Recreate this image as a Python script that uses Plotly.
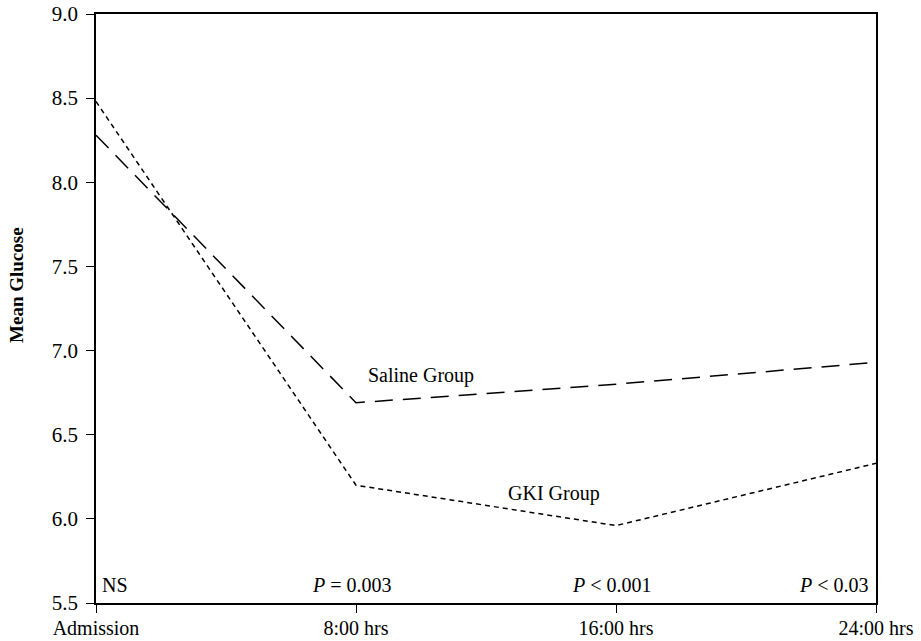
import plotly.graph_objects as go

categories = ["Admission", "8:00 hrs", "16:00 hrs", "24:00 hrs"]
saline = [8.28, 6.69, 6.80, 6.93]
gki = [8.48, 6.20, 5.96, 6.33]
p_labels = ["NS", "<i>P</i> = 0.003", "<i>P</i> &lt; 0.001", "<i>P</i> &lt; 0.03"]
y_ticks = [5.5, 6.0, 6.5, 7.0, 7.5, 8.0, 8.5, 9.0]

FONT = "Liberation Serif, Times New Roman, serif"
xs = list(range(len(categories)))

fig = go.Figure()
fig.add_trace(go.Scatter(x=xs, y=saline, mode="lines", name="Saline Group",
                         line=dict(color="black", width=1.5, dash="18px,10px")))
fig.add_trace(go.Scatter(x=xs, y=gki, mode="lines", name="GKI Group",
                         line=dict(color="black", width=1.5, dash="5px,4px")))

fig.add_annotation(x=1.25, y=6.85, text="Saline Group", showarrow=False,
                   font=dict(family=FONT, size=20, color="black"))
fig.add_annotation(x=1.76, y=6.15, text="GKI Group", showarrow=False,
                   font=dict(family=FONT, size=20, color="black"))

anchors = ["left", "center", "center", "right"]
offs = [0.015, -0.015, -0.015, -0.02]
for i, (lab, anc) in enumerate(zip(p_labels, anchors)):
    fig.add_annotation(x=xs[i] + offs[i], y=5.605, text=lab, showarrow=False,
                       xanchor=anc, font=dict(family=FONT, size=20, color="black"))

# y-axis title placed as an annotation
fig.add_annotation(x=0, xref="paper", xanchor="center", xshift=-79,
                   y=0.54, yref="paper", yanchor="middle",
                   text="<b>Mean Glucose</b>", textangle=-90, showarrow=False,
                   font=dict(family=FONT, size=19, color="black"))

fig.update_layout(
    width=921, height=641,
    margin=dict(l=96, r=45, t=14, b=38),
    plot_bgcolor="white", paper_bgcolor="white",
    showlegend=False,
    font=dict(family=FONT, size=21, color="black"),
    xaxis=dict(range=[0, 3], tickvals=xs, ticktext=categories, automargin=False,
               showline=True, linecolor="black", linewidth=1.5, mirror=True,
               ticks="outside", ticklen=8, tickcolor="black", showgrid=False,
               zeroline=False, tickfont=dict(family=FONT, size=20),
               ticklabelstandoff=-2, ticklabeloverflow="allow"),
    yaxis=dict(range=[5.5, 9.0], tickvals=y_ticks, tickformat=".1f", automargin=False,
               showline=True, linecolor="black", linewidth=1.5, mirror=True,
               ticks="outside", ticklen=8, tickcolor="black", showgrid=False,
               zeroline=False, tickfont=dict(family=FONT, size=21),
               ticklabelstandoff=4, ticklabeloverflow="allow"),
)

fig.write_html("out.html", config={"displayModeBar": False},
               post_script="document.body.style.margin='0px';")
